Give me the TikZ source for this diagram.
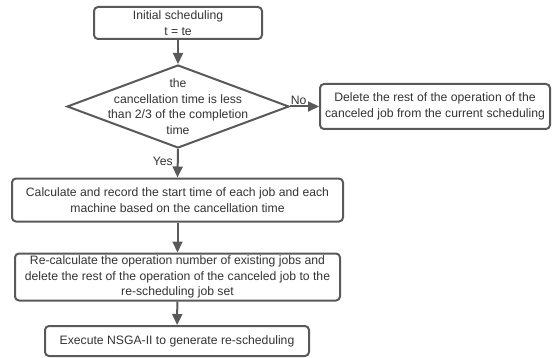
\documentclass[tikz,border=0pt]{standalone}
\usepackage{fontspec}
\setmainfont{Liberation Sans}
\usepackage{xcolor}
\usetikzlibrary{shapes.geometric}
\usetikzlibrary{arrows.meta}

\definecolor{linegray}{HTML}{595959}
\definecolor{textgray}{HTML}{333333}

\tikzset{
  stepbox/.style={draw=linegray, line width=2pt, rounded corners=4pt, align=center,
    text=textgray, inner sep=0pt, font=\fontsize{12.2}{15.5}\selectfont},
  decision/.style={draw=linegray, line width=2pt, diamond, inner sep=0pt,
    minimum width=222pt, minimum height=83pt},
  flow/.style={draw=linegray, line width=2pt, -{Triangle[length=11pt,width=10pt]}},
  tag/.style={text=textgray, font=\fontsize{12.2}{14}\selectfont, inner sep=1pt}
}

\begin{document}
\begin{tikzpicture}[x=1pt,y=-1pt]

\useasboundingbox (0,0) rectangle (556,358);

% Boxes of the flow
\node[stepbox, minimum width=168pt, minimum height=32pt] (init) at (178,23)
  {Initial scheduling\\t = te};
\node[decision, label={[align=center, text=textgray, font=\fontsize{12.2}{15.5}\selectfont]center:the\\cancellation time is less\\than 2/3 of the completion\\time}] (cond) at (178,106.5) {};
\node[stepbox, minimum width=230pt, minimum height=45pt] (drop) at (435,106.5)
  {Delete the rest of the operation of the\\canceled job from the current scheduling};
\node[stepbox, minimum width=331pt, minimum height=43pt] (calc) at (177.5,200)
  {Calculate and record the start time of each job and each\\machine based on the cancellation time};
\node[stepbox, minimum width=325pt, minimum height=47pt] (recalc) at (177.5,277)
  {Re-calculate the operation number of existing jobs and\\delete the rest of the operation of the canceled job to the\\re-scheduling job set};
\node[stepbox, minimum width=264pt, minimum height=30pt] (exec) at (177,341)
  {Execute NSGA-II to generate re-scheduling};

% Connectors
\foreach \a/\b in {init/cond, calc/recalc, recalc/exec}
  \draw[flow] (\a) -- (\b);
\draw[flow] (cond.east) -- (drop.west) node[tag, pos=0.3, above] (no) {No};
\draw[flow] (cond.south) -- (calc.north) node[tag, pos=0.45, left=3pt] (yes) {Yes};

\end{tikzpicture}
\end{document}
